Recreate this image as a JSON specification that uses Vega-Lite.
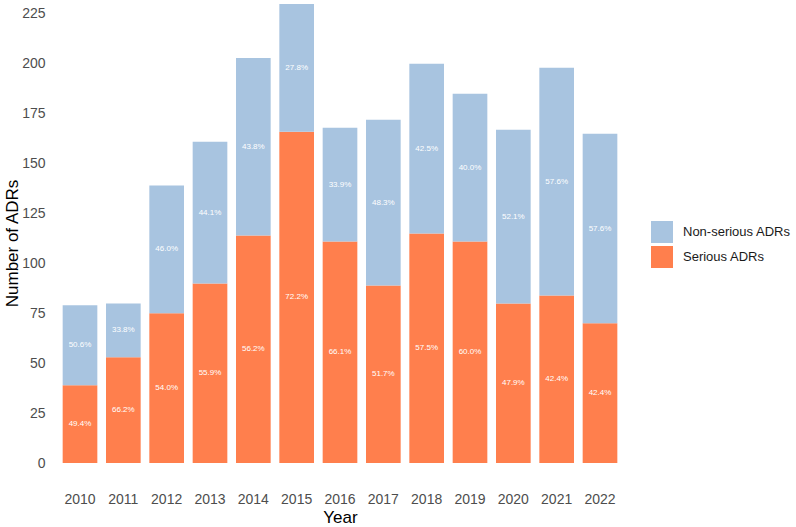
{
  "$schema": "https://vega.github.io/schema/vega-lite/v6.json",
  "width": 572,
  "height": 486,
  "autosize": "none",
  "padding": {"left": 54, "top": 0, "right": 170, "bottom": 41},
  "data": {
    "values": [
      {"year": "2010", "type": "Serious ADRs", "count": 39, "pct": "49.4%"},
      {"year": "2010", "type": "Non-serious ADRs", "count": 40, "pct": "50.6%"},
      {"year": "2011", "type": "Serious ADRs", "count": 53, "pct": "66.2%"},
      {"year": "2011", "type": "Non-serious ADRs", "count": 27, "pct": "33.8%"},
      {"year": "2012", "type": "Serious ADRs", "count": 75, "pct": "54.0%"},
      {"year": "2012", "type": "Non-serious ADRs", "count": 64, "pct": "46.0%"},
      {"year": "2013", "type": "Serious ADRs", "count": 90, "pct": "55.9%"},
      {"year": "2013", "type": "Non-serious ADRs", "count": 71, "pct": "44.1%"},
      {"year": "2014", "type": "Serious ADRs", "count": 114, "pct": "56.2%"},
      {"year": "2014", "type": "Non-serious ADRs", "count": 89, "pct": "43.8%"},
      {"year": "2015", "type": "Serious ADRs", "count": 166, "pct": "72.2%"},
      {"year": "2015", "type": "Non-serious ADRs", "count": 64, "pct": "27.8%"},
      {"year": "2016", "type": "Serious ADRs", "count": 111, "pct": "66.1%"},
      {"year": "2016", "type": "Non-serious ADRs", "count": 57, "pct": "33.9%"},
      {"year": "2017", "type": "Serious ADRs", "count": 89, "pct": "51.7%"},
      {"year": "2017", "type": "Non-serious ADRs", "count": 83, "pct": "48.3%"},
      {"year": "2018", "type": "Serious ADRs", "count": 115, "pct": "57.5%"},
      {"year": "2018", "type": "Non-serious ADRs", "count": 85, "pct": "42.5%"},
      {"year": "2019", "type": "Serious ADRs", "count": 111, "pct": "60.0%"},
      {"year": "2019", "type": "Non-serious ADRs", "count": 74, "pct": "40.0%"},
      {"year": "2020", "type": "Serious ADRs", "count": 80, "pct": "47.9%"},
      {"year": "2020", "type": "Non-serious ADRs", "count": 87, "pct": "52.1%"},
      {"year": "2021", "type": "Serious ADRs", "count": 84, "pct": "42.4%"},
      {"year": "2021", "type": "Non-serious ADRs", "count": 114, "pct": "57.6%"},
      {"year": "2022", "type": "Serious ADRs", "count": 70, "pct": "42.4%"},
      {"year": "2022", "type": "Non-serious ADRs", "count": 95, "pct": "57.6%"}
    ]
  },
  "transform": [
    {
      "stack": "count",
      "groupby": ["year"],
      "sort": [{"field": "type", "order": "descending"}],
      "as": ["y0", "y1"]
    },
    {"calculate": "(datum.y0 + datum.y1) / 2", "as": "ymid"}
  ],
  "encoding": {
    "x": {
      "field": "year",
      "type": "nominal",
      "title": "Year",
      "scale": {"paddingInner": 0.2, "paddingOuter": 0.2},
      "axis": {
        "labelAngle": 0,
        "domain": false,
        "ticks": false,
        "labelPadding": 6,
        "titlePadding": 3
      }
    }
  },
  "layer": [
    {
      "mark": {"type": "bar"},
      "encoding": {
        "y": {
          "field": "y0",
          "type": "quantitative",
          "title": "Number of ADRs",
          "scale": {"domain": [-11.5, 232], "nice": false, "zero": false},
          "axis": {
            "values": [0, 25, 50, 75, 100, 125, 150, 175, 200, 225],
            "domain": false,
            "ticks": false,
            "grid": false,
            "labelPadding": 9,
            "titlePadding": 0
          }
        },
        "y2": {"field": "y1"},
        "color": {
          "field": "type",
          "type": "nominal",
          "title": null,
          "scale": {
            "domain": ["Non-serious ADRs", "Serious ADRs"],
            "range": ["#a8c4e0", "#ff7f4d"]
          },
          "legend": {
            "orient": "none",
            "legendX": 597,
            "legendY": 221,
            "symbolType": "square",
            "symbolSize": 484,
            "symbolStrokeWidth": 0,
            "symbolOpacity": 1,
            "rowPadding": 3,
            "labelOffset": 10,
            "labelFontSize": 13,
            "labelColor": "#1a1a1a",
            "labelFont": "Liberation Sans",
            "labelLimit": 200
          }
        }
      }
    },
    {
      "mark": {"type": "text", "color": "white", "fontSize": 8, "font": "Liberation Sans", "baseline": "middle"},
      "encoding": {
        "y": {"field": "ymid", "type": "quantitative"},
        "text": {"field": "pct", "type": "nominal"}
      }
    }
  ],
  "config": {
    "view": {"stroke": null},
    "axis": {
      "labelFont": "Liberation Sans",
      "labelFontSize": 14,
      "labelColor": "#4d4d4d",
      "titleFont": "Liberation Sans",
      "titleFontSize": 17,
      "titleFontWeight": "normal",
      "titleColor": "#000000",
      "grid": false
    }
  }
}
